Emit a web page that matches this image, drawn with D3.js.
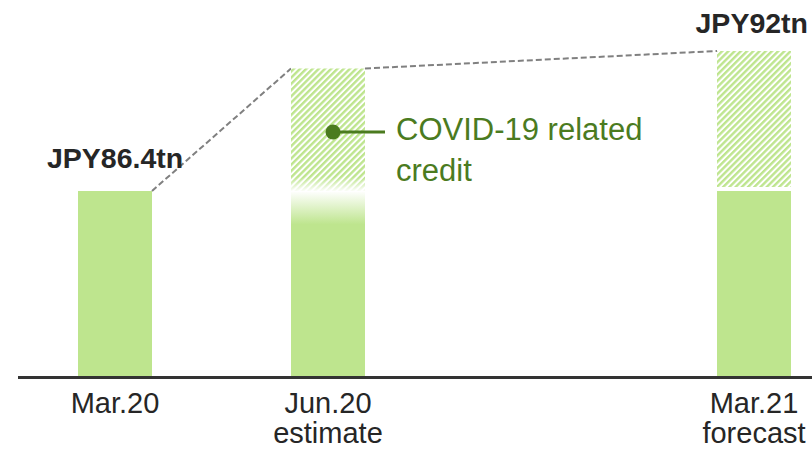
<!DOCTYPE html>
<html>
<head>
<meta charset="utf-8">
<script src="https://cdn.jsdelivr.net/npm/d3@7"></script>
<style>
  html, body { margin: 0; padding: 0; background: #fff; }
  svg { display: block; font-family: "Liberation Sans", Arial, sans-serif; }
</style>
</head>
<body>
<svg id="chart" width="812" height="450"></svg>
<script>
// Loan balance, JPY trillion
const categories = ["Mar.20", "Jun.20", "Mar.21"];
const subLabels = ["", "estimate", "forecast"];
const slots = [0, 1, 3];                 // column slot of each category (slot 2 left empty)
const baseValues = [86.4, 86.4, 86.4];   // existing balance
const totalValues = [86.4, 91.3, 92];    // balance incl. COVID-19 related credit
const valueLabels = ["JPY86.4tn", null, "JPY92tn"];
const calloutText = ["COVID-19 related", "credit"];

const W = 812, H = 450;
const green = "#bee58e";
const darkGreen = "#4b7b1f";
const textColor = "#262626";

const svg = d3.select("#chart");
const defs = svg.append("defs");

// diagonal hatch for the COVID-19 portion
const pat = defs.append("pattern")
  .attr("id", "hatch")
  .attr("patternUnits", "userSpaceOnUse")
  .attr("width", 4.4).attr("height", 4.4)
  .attr("patternTransform", "rotate(45)");
pat.append("rect").attr("width", 4.4).attr("height", 4.4).attr("fill", "#fff");
pat.append("rect").attr("width", 2.4).attr("height", 4.4).attr("fill", green);

const x = d3.scaleLinear().domain([0, 3]).range([115, 754]);
const y = d3.scaleLinear().domain([79, 92]).range([376, 51]);
const barW = 74;

// soft fade at the top of the estimated base bar
const fade = defs.append("linearGradient")
  .attr("id", "baseFade")
  .attr("x1", 0).attr("y1", 0).attr("x2", 0).attr("y2", 1);
fade.append("stop").attr("offset", 0).attr("stop-color", green).attr("stop-opacity", 0);
fade.append("stop").attr("offset", 0.18).attr("stop-color", green).attr("stop-opacity", 1);
fade.append("stop").attr("offset", 1).attr("stop-color", green).attr("stop-opacity", 1);

// hatch fading into white at its lower edge
const hatchFade = defs.append("linearGradient")
  .attr("id", "hatchFade")
  .attr("x1", 0).attr("y1", 0).attr("x2", 0).attr("y2", 1);
hatchFade.append("stop").attr("offset", 0).attr("stop-color", "#fff").attr("stop-opacity", 0);
hatchFade.append("stop").attr("offset", 1).attr("stop-color", "#fff").attr("stop-opacity", 1);

const data = categories.map((c, i) => ({
  cat: c, sub: subLabels[i], slot: slots[i],
  base: baseValues[i], total: totalValues[i], label: valueLabels[i]
}));

// dashed connectors between bar tops
const connectors = [];
for (let i = 0; i < data.length - 1; i++) {
  connectors.push({
    x1: x(data[i].slot) + barW / 2, y1: y(data[i].total),
    x2: x(data[i + 1].slot) - barW / 2, y2: y(data[i + 1].total)
  });
}
svg.append("g").selectAll("line").data(connectors).join("line")
  .attr("x1", d => d.x1).attr("y1", d => d.y1)
  .attr("x2", d => d.x2).attr("y2", d => d.y2)
  .attr("stroke", "#808080").attr("stroke-width", 2)
  .attr("stroke-dasharray", "6,3");

const bars = svg.append("g");
data.forEach((d, i) => {
  const x0 = x(d.slot) - barW / 2;
  // base balance
  bars.append("rect")
    .attr("x", x0).attr("y", y(d.base))
    .attr("width", barW).attr("height", y(y.domain()[0]) - y(d.base))
    .attr("fill", d.sub === "estimate" ? "url(#baseFade)" : green);
  if (d.total > d.base) {
    const gap = d.sub === "forecast" ? 4 : 0;
    const top = y(d.total), bottom = y(d.base) - gap;
    bars.append("rect")
      .attr("x", x0).attr("y", top)
      .attr("width", barW).attr("height", bottom - top)
      .attr("fill", "url(#hatch)");
    if (d.sub === "estimate") {
      bars.append("rect")
        .attr("x", x0).attr("y", bottom - 14)
        .attr("width", barW).attr("height", 15)
        .attr("fill", "url(#hatchFade)");
    }
  }
});

// baseline
svg.append("line")
  .attr("x1", 18).attr("x2", W)
  .attr("y1", 377.5).attr("y2", 377.5)
  .attr("stroke", "#333").attr("stroke-width", 3);

// category labels
const lab = svg.append("g").attr("fill", textColor)
  .attr("font-size", 29).attr("text-anchor", "middle");
data.forEach(d => {
  lab.append("text").attr("x", x(d.slot)).attr("y", 413).text(d.cat);
  if (d.sub) lab.append("text").attr("x", x(d.slot)).attr("y", 443).text(d.sub);
});

// value labels
const vl = svg.append("g").attr("fill", textColor)
  .attr("font-size", 28.5).attr("font-weight", "bold");
vl.append("text").attr("x", 47).attr("y", y(data[0].total) - 23).text(data[0].label);
vl.append("text").attr("x", 808).attr("y", y(data[2].total) - 18)
  .attr("text-anchor", "end").text(data[2].label);

// callout for the COVID-19 portion
const cx = x(data[1].slot) + 5, cy = 132;
svg.append("line").attr("x1", cx).attr("x2", cx + 52).attr("y1", cy).attr("y2", cy)
  .attr("stroke", darkGreen).attr("stroke-width", 3);
svg.append("circle").attr("cx", cx).attr("cy", cy).attr("r", 7.5).attr("fill", darkGreen);
const ct = svg.append("text").attr("fill", darkGreen).attr("font-size", 31);
calloutText.forEach((t, i) => {
  ct.append("tspan").attr("x", 396).attr("y", 140 + i * 41).text(t);
});
</script>
</body>
</html>
